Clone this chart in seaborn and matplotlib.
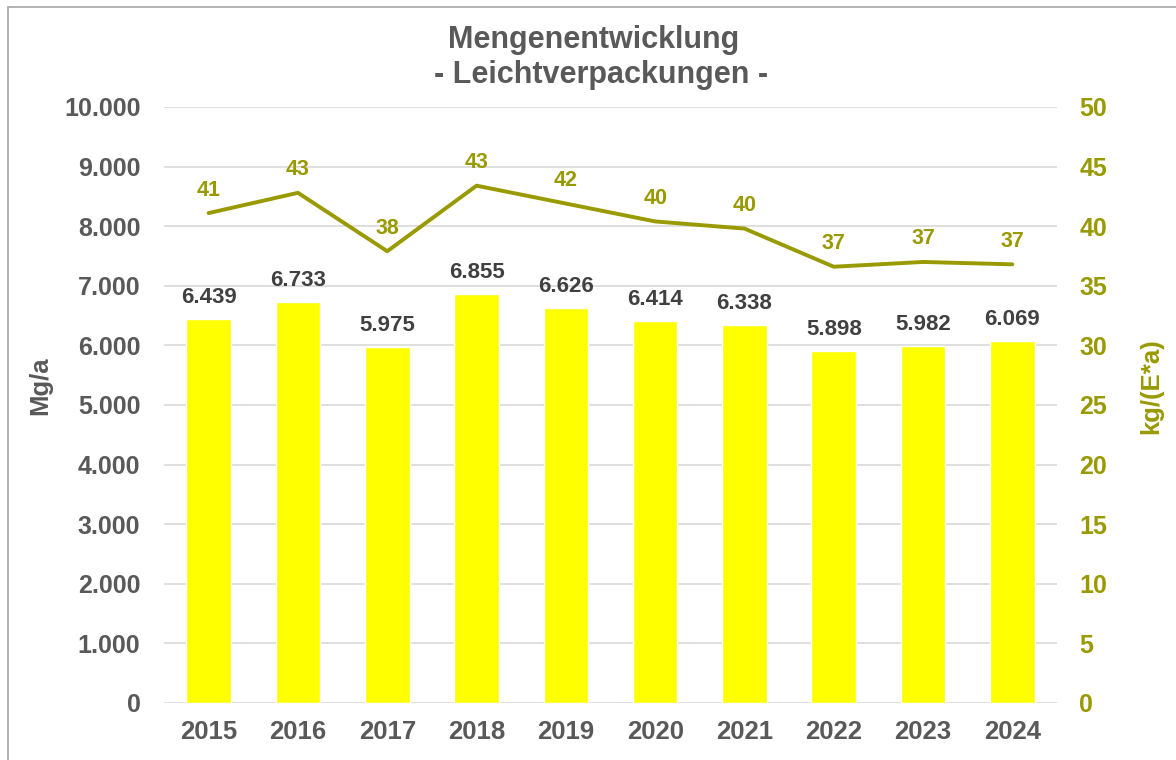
import numpy as np
import pandas as pd
import matplotlib
matplotlib.use("Agg")
import matplotlib.pyplot as plt
from matplotlib.ticker import FuncFormatter, MultipleLocator
from matplotlib.patches import Rectangle
import seaborn as sns

# --- Daten ---
years = ["2015", "2016", "2017", "2018", "2019", "2020", "2021", "2022", "2023", "2024"]
menge_mg = [6439, 6733, 5975, 6855, 6626, 6414, 6338, 5898, 5982, 6069]
kg_pro_ew = [41.1, 42.8, 37.9, 43.4, 41.9, 40.4, 39.8, 36.6, 37.0, 36.8]

GRAU = "#595959"
DUNKEL = "#404040"
OLIV = "#999900"
GELB = "#FFFF00"

sns.set_theme(style="white")
plt.rcParams["font.family"] = ["Liberation Sans", "DejaVu Sans"]
plt.rcParams["font.weight"] = "bold"


def de_fmt(v, _pos=None):
    # deutsche Tausendertrennung
    return f"{v:,.0f}".replace(",", ".")


df = pd.DataFrame({"Jahr": years, "Menge": menge_mg, "kg": kg_pro_ew})

fig = plt.figure(figsize=(11.76, 7.6), dpi=100)
ax = fig.add_axes([164 / 1176, 57 / 760, 893 / 1176, 596 / 760])

sns.barplot(data=df, x="Jahr", y="Menge", color=GELB, saturation=1,
            width=0.5, ax=ax, zorder=2)
ax.set_ylim(0, 10000)
ax.yaxis.set_major_locator(MultipleLocator(1000))
ax.yaxis.set_major_formatter(FuncFormatter(de_fmt))
ax.grid(axis="y", color="#D9D9D9", lw=1.2, zorder=0)
ax.set_axisbelow(True)
ax.set_xlabel("")
ax.set_ylabel("")
ax.tick_params(axis="y", length=0, pad=17, labelsize=18, labelcolor=GRAU)
ax.tick_params(axis="x", length=0, pad=12, labelsize=18.5, labelcolor=GRAU)
for lab in ax.get_xticklabels() + ax.get_yticklabels():
    lab.set_fontweight("bold")
for s in ax.spines.values():
    s.set_visible(False)

# Werte über den Balken
for i, v in enumerate(menge_mg):
    ax.annotate(de_fmt(v), (i, v), xytext=(0, 8), textcoords="offset points",
                ha="center", va="bottom", fontsize=16, fontweight="bold", color=DUNKEL)

# --- zweite Achse: kg/(E*a) ---
ax2 = ax.twinx()
sns.lineplot(x=np.arange(len(years)), y=kg_pro_ew, color=OLIV, lw=2.8, ax=ax2)
ax2.set_ylim(0, 50)
ax2.yaxis.set_major_locator(MultipleLocator(5))
ax2.tick_params(axis="y", length=0, pad=16, labelsize=18, labelcolor=OLIV)
for lab in ax2.get_yticklabels():
    lab.set_fontweight("bold")
ax2.set_ylabel("")
for s in ax2.spines.values():
    s.set_visible(False)
ax2.grid(False)

for i, v in enumerate(kg_pro_ew):
    ax2.annotate(f"{v:.0f}", (i, v), xytext=(0, 9), textcoords="offset points",
                 ha="center", va="bottom", fontsize=15.5, fontweight="bold", color=OLIV)

ax.set_xlim(-0.5, len(years) - 0.5)

fig.text(40 / 1176, 1 - 386 / 760, "Mg/a", rotation=90, ha="center", va="center",
         fontsize=18.5, fontweight="bold", color=GRAU)
fig.text(1151 / 1176, 1 - 386 / 760, "kg/(E*a)", rotation=90, ha="center", va="center",
         fontsize=18.5, fontweight="bold", color=OLIV)

# Titel
fig.text(594 / 1176, 1 - 40 / 760, "Mengenentwicklung", ha="center", va="center",
         fontsize=22, fontweight="bold", color=GRAU)
fig.text(601 / 1176, 1 - 75 / 760, "- Leichtverpackungen -", ha="center", va="center",
         fontsize=22, fontweight="bold", color=GRAU)

# Rahmen
fig.patches.append(Rectangle((8 / 1176, -0.05), 1.2, 1 - 7 / 760 + 0.05,
                             transform=fig.transFigure, fill=False,
                             edgecolor="#A6A6A6", lw=1.2))

fig.savefig("out.png", dpi=100)
